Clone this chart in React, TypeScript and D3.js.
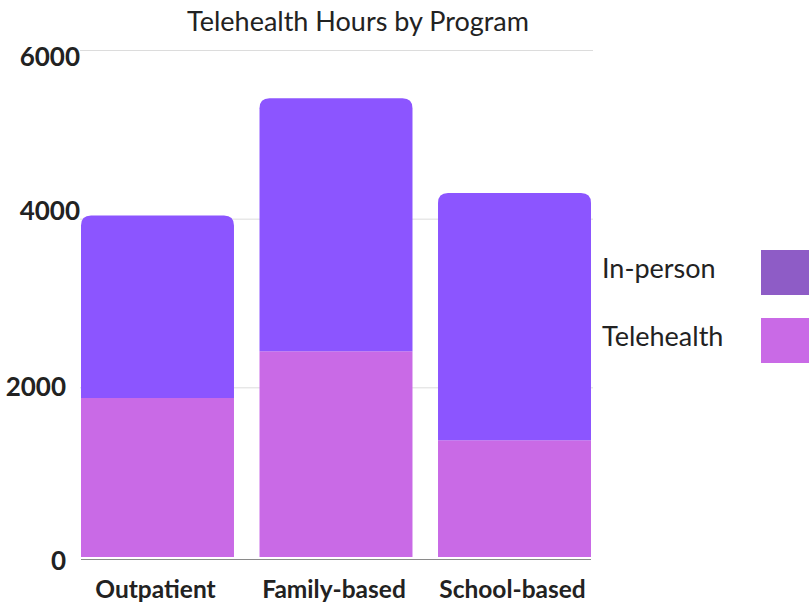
import React, { useRef, useEffect } from 'react';
import * as d3 from 'd3';

const programs = ['Outpatient', 'Family-based', 'School-based'];
const telehealth = [1885, 2440, 1385];
const inPerson = [2165, 3000, 2930];
const yTicks = [0, 2000, 4000, 6000];
const seriesNames = ['In-person', 'Telehealth'];

const W = 809;
const H = 606;

// path for a bar with only the top corners rounded
const topRounded = (x: number, y: number, w: number, h: number, r: number) => {
    const rr = Math.min(r, h, w / 2);
    return `M${x},${y + h}V${y + rr}Q${x},${y} ${x + rr},${y}H${x + w - rr}Q${x + w},${y} ${x + w},${y + rr}V${y + h}Z`;
};

// tick labels in the source sit a bit off their gridlines
const tickLabelPos = (d: number) => {
    if (d === 6000) return { right: 80, dy: 6 };
    if (d === 4000) return { right: 80, dy: -9 };
    if (d === 2000) return { right: 66, dy: -2 };
    return { right: 66, dy: 4 };
};

const App = () => {
    const ref = useRef<SVGSVGElement>(null);

    useEffect(() => {
        if (!ref.current) return;
        const svg = d3.select(ref.current);
        svg.selectAll('*').remove();

        const font = 'Lato, Carlito, "Open Sans", sans-serif';

        const x = d3.scaleBand<string>().domain(programs).range([81, 591]).paddingInner(0.143).paddingOuter(0);
        const y = d3.scaleLinear().domain([0, 6000]).range([557, 51]);

        const colors = d3.scaleOrdinal<string, string>().domain(seriesNames).range(['#8c55ff', '#c96ae6']);
        const legendColors = ['#8e5cc6', '#c96ae6'];

        // grid
        svg.append('g')
            .selectAll('line')
            .data(yTicks.filter(d => d > 0))
            .enter().append('line')
            .attr('x1', 80).attr('x2', 593)
            .attr('y1', d => y(d) - 0.5).attr('y2', d => y(d) - 0.5)
            .attr('stroke', '#dcdcdc').attr('stroke-width', 1);

        // baseline
        svg.append('line')
            .attr('x1', 81).attr('x2', 591)
            .attr('y1', 559.5).attr('y2', 559.5)
            .attr('stroke', '#8a8a8a').attr('stroke-width', 1);

        // y tick labels
        svg.append('g')
            .selectAll('text')
            .data(yTicks)
            .enter().append('text')
            .attr('x', d => tickLabelPos(d).right)
            .attr('y', d => y(d) + tickLabelPos(d).dy)
            .attr('dy', '0.36em')
            .attr('text-anchor', 'end')
            .attr('font-family', font)
            .attr('font-weight', 'bold')
            .attr('font-size', 26)
            .attr('fill', '#222')
            .text(d => d);

        // stacked bars
        const rows = programs.map((p, i) => ({ program: p, Telehealth: telehealth[i], 'In-person': inPerson[i] }));
        const stack = d3.stack<any>().keys(['Telehealth', 'In-person'])(rows);

        stack.forEach(layer => {
            svg.append('g')
                .selectAll('path')
                .data(layer)
                .enter().append('path')
                .attr('fill', colors(layer.key))
                .attr('d', d => {
                    const bx = x(d.data.program) as number;
                    const top = y(d[1]);
                    const h = y(d[0]) - top;
                    const r = layer.key === 'In-person' ? 10 : 0;
                    return topRounded(bx, top, x.bandwidth(), h, r);
                });
        });

        // category labels
        svg.append('g')
            .selectAll('text')
            .data(programs)
            .enter().append('text')
            .attr('x', d => (x(d) as number) + x.bandwidth() / 2 - 2)
            .attr('y', 598)
            .attr('text-anchor', 'middle')
            .attr('font-family', font)
            .attr('font-weight', 'bold')
            .attr('font-size', 24.5)
            .attr('fill', '#222')
            .text(d => d);

        // title
        svg.append('text')
            .attr('x', 358)
            .attr('y', 31)
            .attr('text-anchor', 'middle')
            .attr('font-family', font)
            .attr('font-size', 27)
            .attr('fill', '#222')
            .text('Telehealth Hours by Program');

        // legend
        const legend = svg.append('g')
            .selectAll('g')
            .data(seriesNames)
            .enter().append('g')
            .attr('transform', (d, i) => `translate(0,${250 + i * 68})`);

        legend.append('rect')
            .attr('x', 761).attr('y', 0)
            .attr('width', 60).attr('height', 45)
            .attr('fill', (d, i) => legendColors[i]);

        legend.append('text')
            .attr('x', 602)
            .attr('y', 19)
            .attr('dy', '0.35em')
            .attr('font-family', font)
            .attr('font-size', 27)
            .attr('fill', '#222')
            .text(d => d);
    }, []);

    return <svg ref={ref} width={W} height={H} style={{ position: 'absolute', left: 0, top: 0 }} />;
};

export default App;
